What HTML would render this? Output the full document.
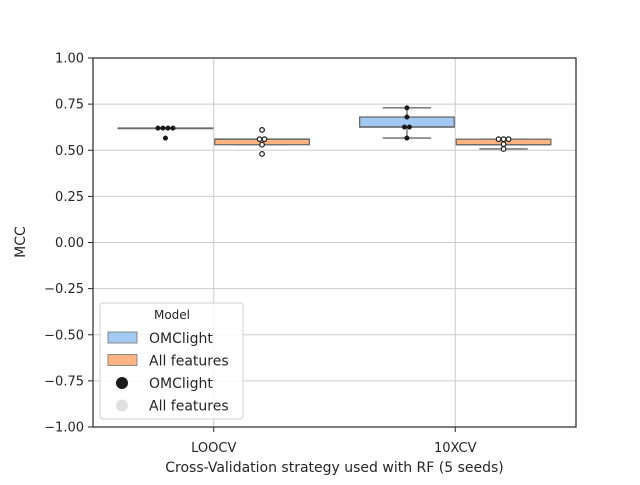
<!DOCTYPE html>
<html><head><meta charset="utf-8"><style>
body{margin:0;background:#fff;font-family:"Liberation Sans","DejaVu Sans",sans-serif}
svg text{font-family:"DejaVu Sans","Liberation Sans",sans-serif;fill:#262626}
</style></head><body>
<svg id="c" width="640" height="480" xmlns="http://www.w3.org/2000/svg"></svg>
<script>
const categories=["LOOCV","10XCV"];
const series=["OMClight","All features"];
const colors=["#a1c9f4","#ffb482"];
const boxQ1=[[0.62,0.53],[0.626,0.53]];
const boxMed=[[0.62,0.56],[0.626,0.53]];
const boxQ3=[[0.62,0.56],[0.68,0.56]];
const whiskLo=[[0.62,0.53],[0.566,0.507]];
const whiskHi=[[0.62,0.56],[0.73,0.56]];
const points=[[[0.62,0.62,0.62,0.62,0.566],[0.61,0.56,0.56,0.53,0.48]],[[0.73,0.68,0.626,0.626,0.566],[0.56,0.56,0.56,0.533,0.507]]];
const yTicks=[1,0.75,0.5,0.25,0,-0.25,-0.5,-0.75,-1];
const yLabels=["1.00","0.75","0.50","0.25","0.00","\u22120.25","\u22120.50","\u22120.75","\u22121.00"];
const L=93,R=576,T=58,B=427;
const y=v=>T+(1-v)/2*(B-T);
const cw=(R-L)/2;
const xc=i=>L+cw*(i+0.5);
const svg=document.getElementById('c');
const NS="http://www.w3.org/2000/svg";
function mk(t,a,p){const e=document.createElementNS(NS,t);for(const k in a)e.setAttribute(k,a[k]);(p||svg).appendChild(e);return e;}
yTicks.forEach((v,i)=>{
 const g=mk('line',{x1:L,x2:R,y1:y(v),y2:y(v),stroke:'#cccccc','stroke-width':1});
 
 
 mk('line',{x1:L-5,x2:L,y1:y(v),y2:y(v),stroke:'#262626'});
 const t=mk('text',{x:L-9,y:y(v)+4.5,'text-anchor':'end','font-size':13});t.textContent=yLabels[i];
 
 
});
categories.forEach((c,i)=>{
 const g=mk('line',{x1:xc(i),x2:xc(i),y1:T,y2:B,stroke:'#cccccc'});
 
 
 mk('line',{x1:xc(i),x2:xc(i),y1:B,y2:B+5,stroke:'#262626'});
 const t=mk('text',{x:xc(i),y:B+25,'text-anchor':'middle','font-size':13});t.textContent=c;
 
 
});
const bw=cw*0.4;
categories.forEach((c,i)=>{
 series.forEach((s,j)=>{
  const x0=xc(i)-cw*0.4+j*bw, xm=x0+bw/2;
  const g=mk('g',{});
  
  
  mk('line',{x1:xm,x2:xm,y1:y(whiskLo[i][j]),y2:y(boxQ1[i][j]),stroke:'#6b6b6b','stroke-width':1.3},g);
  mk('line',{x1:xm,x2:xm,y1:y(whiskHi[i][j]),y2:y(boxQ3[i][j]),stroke:'#6b6b6b','stroke-width':1.3},g);
  mk('line',{x1:xm-bw/4,x2:xm+bw/4,y1:y(whiskLo[i][j]),y2:y(whiskLo[i][j]),stroke:'#6b6b6b','stroke-width':1.3},g);
  mk('line',{x1:xm-bw/4,x2:xm+bw/4,y1:y(whiskHi[i][j]),y2:y(whiskHi[i][j]),stroke:'#6b6b6b','stroke-width':1.3},g);
  const h=y(boxQ1[i][j])-y(boxQ3[i][j]);
  mk('rect',{x:x0+1,y:y(boxQ3[i][j]),width:bw-2,height:Math.max(h,0.5),fill:colors[j],stroke:'#6b6b6b','stroke-width':1.3},g);
  mk('line',{x1:x0+1,x2:x0+bw-1,y1:y(boxMed[i][j]),y2:y(boxMed[i][j]),stroke:'#6b6b6b','stroke-width':1.5},g);
  const pts=points[i][j];const seen={};
  pts.forEach(v=>{
   const k=v.toFixed(3);const n=seen[k]||0;seen[k]=n+1;
   const cnt=pts.filter(p=>p.toFixed(3)===k).length;
   const off=(n-(cnt-1)/2)*5;
   const p=mk('circle',{cx:xm+off,cy:y(v),r:2.3,fill:j?'#ffffff':'#1a1a1a',stroke:'#1a1a1a','stroke-width':j?1.2:0.5});
   
   
  });
 });
});
const fr=mk('rect',{x:L,y:T,width:R-L,height:B-T,fill:'none',stroke:'#262626','stroke-width':1.2});


let t=mk('text',{x:(L+R)/2,y:472,'text-anchor':'middle','font-size':14});t.textContent="Cross-Validation strategy used with RF (5 seeds)";


t=mk('text',{x:25,y:242,'text-anchor':'middle','font-size':14,transform:'rotate(-90 25 242)'});t.textContent="MCC";


const lg=mk('g',{});


mk('rect',{x:100,y:303,width:143,height:116,rx:3,fill:'#ffffff','fill-opacity':0.85,stroke:'#d0d0d0'},lg);
t=mk('text',{x:172,y:319,'text-anchor':'middle','font-size':12},lg);t.textContent="Model";
const items=[["rect",colors[0],"OMClight"],["rect",colors[1],"All features"],["dot","#1a1a1a","OMClight"],["dot","#e0e0e0","All features"]];
items.forEach((it,k)=>{
 const yy=338+k*22.5;
 const e=mk('g',{},lg);
 
 
 if(it[0]==="rect")mk('rect',{x:108,y:yy-6,width:29,height:11,fill:it[1],stroke:'#888'},e);
 else mk('circle',{cx:122,cy:yy,r:6,fill:it[1]},e);
 const tt=mk('text',{x:149,y:yy+5,'font-size':14},e);tt.textContent=it[2];
});
</script>
</body></html>
